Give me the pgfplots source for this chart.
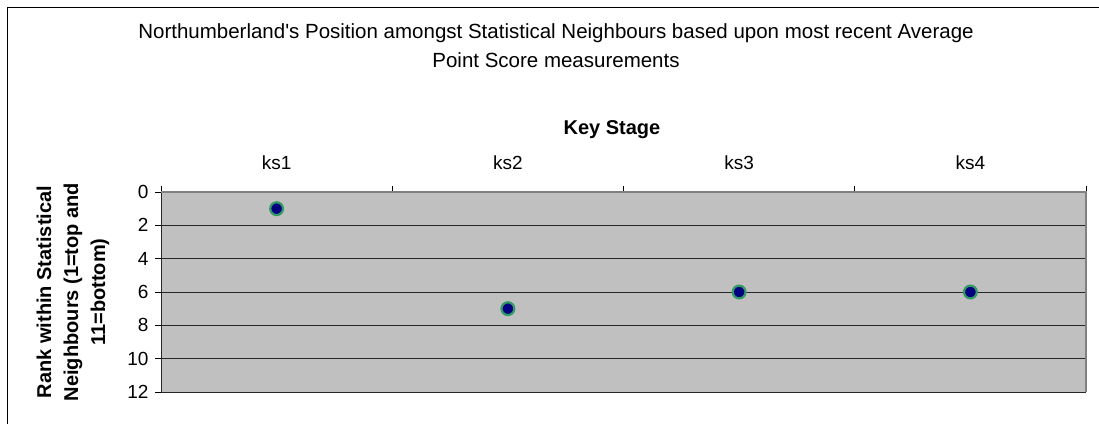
\documentclass[border=0pt]{standalone}
\usepackage{fontspec}
\setmainfont{Liberation Sans}
\usepackage{pgfplots}
\pgfplotsset{compat=1.18}
\definecolor{plotgrey}{HTML}{C0C0C0}
\definecolor{markfill}{HTML}{000080}
\definecolor{markedge}{HTML}{339966}
\begin{document}
\begin{tikzpicture}[x=1pt,y=1pt]
\useasboundingbox (0,0) rectangle (1099,423);
% chart frame
\draw[line width=1.2pt] (7.5,-5) -- (7.5,415.5) -- (1110,415.5);
% title
\node[font=\fontsize{20.5}{27}\selectfont] at (556,390) {Northumberland\textquotesingle s Position amongst Statistical Neighbours based upon most recent Average};
\node[font=\fontsize{20.5}{27}\selectfont] at (556,363) {Point Score measurements};
% axis titles
\node[font=\bfseries\fontsize{20}{27}\selectfont, anchor=base] at (612,288) {Key Stage};
\node[font=\bfseries\fontsize{20}{27}\selectfont, rotate=90, align=center] at (73,131)
  {Rank within Statistical\\Neighbours (1=top and\\11=bottom)};
\begin{axis}[
  at={(161pt,31pt)}, anchor=south west,
  scale only axis, width=925pt, height=200pt,
  xmin=0, xmax=4, ymin=0, ymax=12,
  y dir=reverse,
  axis background/.style={fill=plotgrey},
  axis line style={draw=none},
  xtick={0.5,1.5,2.5,3.5},
  xticklabels={ks1,ks2,ks3,ks4},
  xticklabel pos=upper,
  xtick pos=upper,
  ytick pos=left,
  major x tick style={draw=none},
  minor xtick={0,1,2,3,4},
  minor tick length=6pt,
  minor x tick style={black, line width=0.8pt},
  ytick={0,2,...,12},
  major tick length=6pt,
  tick align=outside,
  y tick style={black, line width=0.8pt},
  ymajorgrids,
  grid style={black!85, line width=0.9pt},
  x tick label style={font=\fontsize{19}{23}\selectfont, anchor=base, yshift=17pt},
  y tick label style={font=\fontsize{19}{23}\selectfont, xshift=-3pt},
  /pgf/number format/assume math mode=true,
  clip=false,
]
\addplot[only marks, mark=*, mark size=6.4pt, mark options={fill=markfill, draw=markedge, line width=2.2pt}]
  coordinates {(0.5,1) (1.5,7) (2.5,6) (3.5,6)};
\draw[black!85, line width=1pt] (rel axis cs:0,1) -- (rel axis cs:0,0) -- (rel axis cs:1,0);
\draw[black!50, line width=1.5pt] (rel axis cs:0,1) -- (rel axis cs:1,1) -- (rel axis cs:1,0);
\end{axis}
\end{tikzpicture}
\end{document}
